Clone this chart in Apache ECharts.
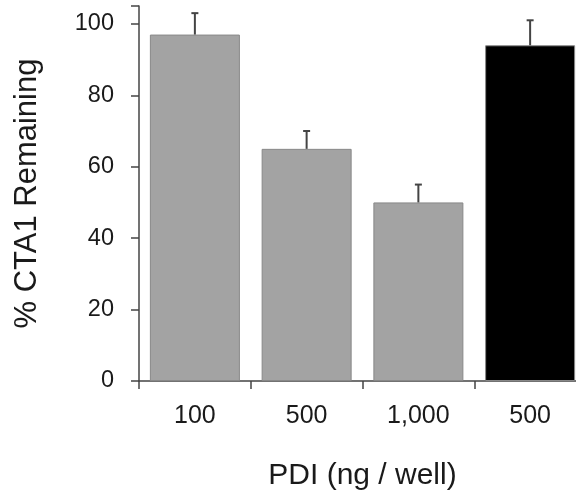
<!DOCTYPE html>
<html>
<head>
<meta charset="utf-8">
<script src="https://cdn.jsdelivr.net/npm/echarts@6/dist/echarts.min.js"></script>
<style>
  html, body { margin: 0; padding: 0; background: #fff; }
  #chart { width: 576px; height: 496px; }
</style>
</head>
<body>
<div id="chart"></div>
<script>
var categories = ['100', '500', '1,000', '500'];
var remaining = [97, 65, 50, 94];
var errorTop = [103, 70, 55, 101];
var yTicks = [0, 20, 40, 60, 80, 100];

var chart = echarts.init(document.getElementById('chart'));

var fontFam = '"Liberation Sans", Arial, sans-serif';

var option = {
  animation: false,
  grid: { left: 139, top: 6, width: 447, height: 375, outerBoundsMode: 'none', containLabel: false },
  xAxis: {
    type: 'category',
    data: categories,
    name: 'PDI (ng / well)',
    nameLocation: 'middle',
    nameGap: 80,
    nameTextStyle: { fontFamily: fontFam, fontSize: 30, color: '#1a1a1a' },
    axisLine: { lineStyle: { color: '#444', width: 1.5 } },
    axisTick: { show: true, length: 8, inside: false, alignWithLabel: false, lineStyle: { color: '#444', width: 1.5 } },
    axisLabel: { fontFamily: fontFam, fontSize: 25, color: '#1a1a1a', margin: 23 }
  },
  yAxis: {
    type: 'value',
    min: 0,
    max: 105,
    interval: 20,
    name: '% CTA1 Remaining',
    nameLocation: 'middle',
    nameGap: 96,
    nameRotate: 90,
    nameTextStyle: { fontFamily: fontFam, fontSize: 31, color: '#1a1a1a' },
    splitLine: { show: false },
    axisLine: { show: true, lineStyle: { color: '#444', width: 1.5 } },
    axisTick: { show: true, length: 8, lineStyle: { color: '#444', width: 1.5 } },
    axisLabel: {
      fontFamily: fontFam, fontSize: 23.5, color: '#1a1a1a', margin: 25,
      formatter: function (v) { return yTicks.indexOf(v) >= 0 ? String(v) : ''; }
    }
  },
  series: [
    {
      type: 'bar',
      data: remaining,
      barWidth: 90,
      itemStyle: {
        color: function (p) { return p.dataIndex === 3 ? '#000' : '#a3a3a3'; },
        borderColor: '#888',
        borderWidth: 1
      },
      z: 2
    },
    {
      type: 'custom',
      data: remaining.map(function (v, i) { return [i, v, errorTop[i]]; }),
      z: 3,
      renderItem: function (params, api) {
        var base = api.coord([api.value(0), api.value(1)]);
        var top = api.coord([api.value(0), api.value(2)]);
        var x = base[0];
        return {
          type: 'group',
          children: [
            { type: 'line', shape: { x1: x, y1: base[1], x2: x, y2: top[1] }, style: { stroke: '#444', lineWidth: 2 } },
            { type: 'line', shape: { x1: x - 3.5, y1: top[1], x2: x + 3.5, y2: top[1] }, style: { stroke: '#444', lineWidth: 2 } }
          ]
        };
      }
    }
  ]
};

chart.setOption(option);
</script>
</body>
</html>
